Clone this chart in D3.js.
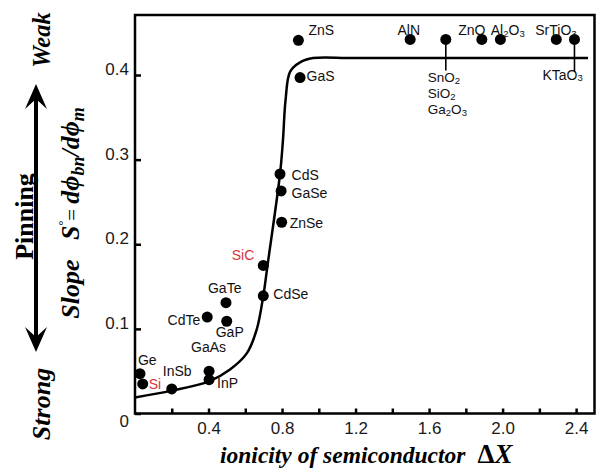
<!DOCTYPE html>
<html><head><meta charset="utf-8">
<script src="https://cdn.jsdelivr.net/npm/d3@7"></script>
<style>body{margin:0;background:#fff}svg{display:block}text{white-space:pre}</style>
</head><body><svg id="c" width="600" height="468"></svg>
<script>
// ---------- data ----------
const materials = ["Ge","Si","InSb","GaAs","InP","CdTe","GaP","GaTe","CdSe","SiC","ZnSe","GaSe","CdS","GaS","ZnS","AlN","SnO2|SiO2|Ga2O3","ZnO","Al2O3","SrTiO3","KTaO3"];
const ionicity = [0.027,0.042,0.20,0.403,0.403,0.393,0.499,0.495,0.698,0.698,0.798,0.795,0.789,0.898,0.889,1.497,1.691,1.887,1.988,2.292,2.391];
const slopeS   = [0.047,0.035,0.029,0.050,0.040,0.114,0.109,0.131,0.139,0.175,0.226,0.263,0.283,0.397,0.441,0.442,0.442,0.442,0.442,0.442,0.442];
const highlighted = ["Si","SiC"];
const fitX = [0,0.2,0.403,0.517,0.608,0.662,0.698,0.721,0.789,0.805,0.819,0.844,0.898,0.969,1.2,2.465];
const fitY = [0.019,0.027,0.038,0.052,0.071,0.099,0.139,0.175,0.283,0.323,0.370,0.404,0.415,0.420,0.420,0.420];
const xTicks = [0.2,0.4,0.6,0.8,1.0,1.2,1.4,1.6,1.8,2.0,2.2,2.4];
const xTickLabels = ["","0.4","","0.8","","1.2","","1.6","","2.0","","2.4"];
const yTicks = [0,0.1,0.2,0.3,0.4];
const yTickLabels = ["0","0.1","0.2","0.3","0.4"];

// ---------- layout (label offsets from dot, px) ----------
const labelLayout = {
  "Ge":[-2,-9,"start"], "Si":[6,5,"start"], "InSb":[-9,-13,"start"], "GaAs":[-18,-19,"start"],
  "InP":[8,8,"start"], "CdTe":[-7,8,"end"], "GaP":[-11,16,"start"], "GaTe":[-18,-10,"start"],
  "CdSe":[10,3,"start"], "SiC":[-9,-5,"end"], "ZnSe":[8,5.5,"start"], "GaSe":[10.5,7.5,"start"],
  "CdS":[11.5,6,"start"], "GaS":[6.5,3.5,"start"], "ZnS":[10,-5,"start"], "AlN":[-12.7,-4,"start"],
  "SnO2|SiO2|Ga2O3":[-18,43,"start",31], "ZnO":[-23.7,-4,"start"], "Al2O3":[-9.6,-4,"start"],
  "SrTiO3":[-21,-4,"start"], "KTaO3":[-32,40.3,"start",32]
};

const L = 135, R = 594.5, T = 15, B = 413.5;
const svg = d3.select("#c");
const x = d3.scaleLinear().domain([0,2.5]).range([L,R]);
const y = d3.scaleLinear().domain([0,(B-T)/846.25]).range([B,T]);

const sans = "'Liberation Sans', Arial, sans-serif";
const serif = "'Liberation Serif', 'Times New Roman', serif";

// axes
const xAxis = d3.axisBottom(x).tickValues(xTicks).tickSizeInner(-5).tickSizeOuter(0).tickPadding(8.5)
  .tickFormat((d,i)=>xTickLabels[i]);
const gx = svg.append("g").attr("transform",`translate(0,${B})`).call(xAxis);
const yAxis = d3.axisLeft(y).tickValues(yTicks).tickSizeInner(-6).tickSizeOuter(0).tickPadding(6)
  .tickFormat((d,i)=>yTickLabels[i]);
const gy = svg.append("g").attr("transform",`translate(${L},0)`).call(yAxis);
[gx,gy].forEach(g=>{
  g.select(".domain").remove();
  g.selectAll(".tick line").attr("stroke","#000").attr("stroke-width",2.5);
  g.selectAll(".tick text").attr("fill","#1a1a1a").style("font-family",sans).style("font-size","17px");
});
gy.selectAll(".tick text").attr("dy",d=>d===0?"0.75em":"-0.02em");

// frame
svg.append("rect").attr("x",L).attr("y",T).attr("width",R-L).attr("height",B-T)
  .attr("fill","none").attr("stroke","#000").attr("stroke-width",2.5);

// fitted curve
const fit = fitX.map((v,i)=>[v,fitY[i]]);
svg.append("path").datum(fit)
  .attr("d",d3.line().x(d=>x(d[0])).y(d=>y(d[1])).curve(d3.curveCatmullRom.alpha(0.5)))
  .attr("fill","none").attr("stroke","#000").attr("stroke-width",2.5);

// points
const pts = materials.map((m,i)=>({m, xv:ionicity[i], yv:slopeS[i]}));
svg.append("g").selectAll("circle").data(pts).join("circle")
  .attr("cx",d=>x(d.xv)).attr("cy",d=>y(d.yv)).attr("r",5.5).attr("fill","#000");

// labels
const SUB = 1.5;
function chem(textSel, s){
  const parts = s.match(/[A-Za-z]+|[0-9]+/g);
  let sub=false;
  parts.forEach(p=>{
    const isNum = /^[0-9]+$/.test(p);
    const t = textSel.append("tspan").text(p);
    if(isNum && !sub){ t.attr("dy",SUB).style("font-size","9.5px"); sub=true; }
    else if(isNum){ t.style("font-size","9.5px"); }
    else if(sub){ t.attr("dy",-SUB); sub=false; }
  });
}
const lg = svg.append("g").style("font-family",sans).style("font-size","14px");
pts.forEach(p=>{
  const lay = labelLayout[p.m];
  const cx = x(p.xv), cy = y(p.yv);
  const lines = p.m.split("|");
  const multi = lines.length > 1;
  lines.forEach((ln,k)=>{
    const t = lg.append("text").attr("x",cx+lay[0]).attr("y",cy+lay[1]+k*15.8)
      .attr("text-anchor",lay[2])
      .style("font-size", multi ? "13.5px" : null)
      .attr("fill", highlighted.includes(ln) ? "#d8333b" : "#111");
    chem(t, ln);
  });
  if(lay[3]){
    svg.append("line").attr("x1",cx).attr("x2",cx).attr("y1",cy).attr("y2",cy+lay[3])
      .attr("stroke","#000").attr("stroke-width",1.6);
  }
});

// y title
const yt = svg.append("text").attr("transform","translate(79,213) rotate(-90)").attr("text-anchor","middle")
  .style("font-family",serif).style("font-weight","bold").style("font-style","italic").style("font-size","26px");
yt.append("tspan").text("Slope   S");
yt.append("tspan").attr("dy",-12).style("font-size","12px").style("font-style","normal").style("font-weight","normal").text("°");
yt.append("tspan").attr("dy",12).style("font-size","21px").style("font-style","normal").style("font-weight","normal").text("= ");
yt.append("tspan").text("dϕ");
yt.append("tspan").attr("dy",5).style("font-size","18px").text("bn");
yt.append("tspan").attr("dy",-5).text("/dϕ");
yt.append("tspan").attr("dy",5).style("font-size","18px").text("m");

// x title
const xt = svg.append("text").attr("x",220).attr("y",463)
  .style("font-family",serif).style("font-weight","bold").style("font-style","italic").style("font-size","23.5px");
xt.append("tspan").text("ionicity of semiconductor");
xt.append("tspan").attr("dx",12).style("font-style","normal").style("font-size","27px").text("Δ");
xt.append("tspan").style("font-size","27px").text("X");

// side annotations
svg.append("text").attr("transform","translate(33,216.5) rotate(-90)").attr("text-anchor","middle")
  .style("font-family",serif).style("font-weight","bold").style("font-size","26px").text("Pinning");
svg.append("text").attr("transform","translate(50,40) rotate(-90)").attr("text-anchor","middle")
  .style("font-family",serif).style("font-weight","bold").style("font-style","italic").style("font-size","24.5px").text("Weak");
svg.append("text").attr("transform","translate(50,404) rotate(-90)").attr("text-anchor","middle")
  .style("font-family",serif).style("font-weight","bold").style("font-style","italic").style("font-size","26px").text("Strong");

// double arrow
const ax = 36, aTop = 84, aBot = 352;
svg.append("line").attr("x1",ax).attr("x2",ax).attr("y1",aTop+12).attr("y2",aBot-12)
  .attr("stroke","#000").attr("stroke-width",4);
svg.append("path").attr("d",`M${ax},${aTop} L${ax+11},${aTop+25} L${ax},${aTop+15} L${ax-11},${aTop+25} Z`).attr("fill","#000");
svg.append("path").attr("d",`M${ax},${aBot} L${ax+11},${aBot-25} L${ax},${aBot-15} L${ax-11},${aBot-25} Z`).attr("fill","#000");
</script></body></html>
